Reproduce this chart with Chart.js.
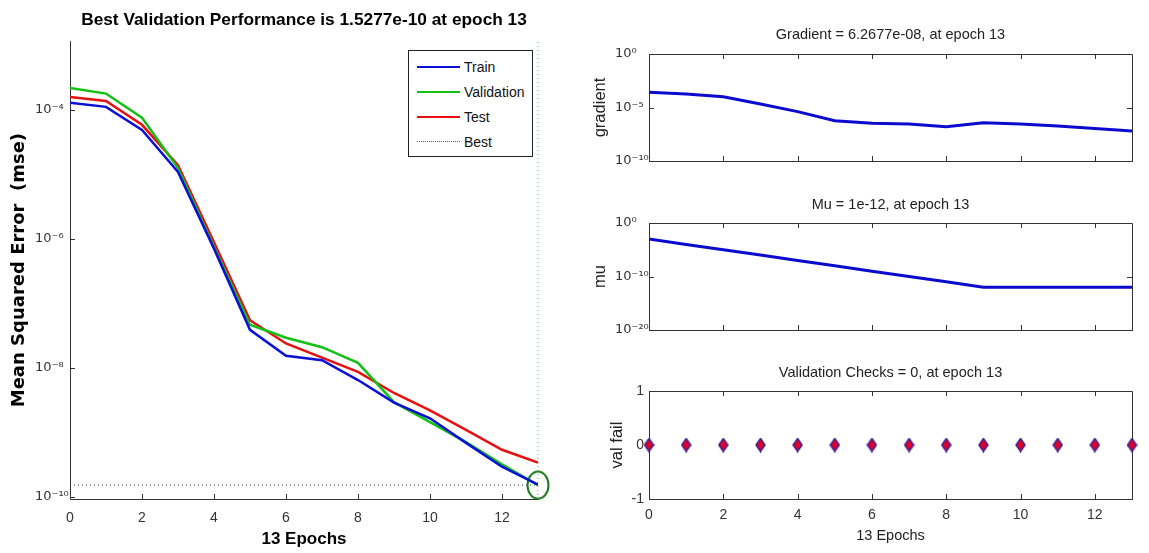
<!DOCTYPE html>
<html>
<head>
<meta charset="utf-8">
<title>Training performance</title>
<script src="https://cdn.jsdelivr.net/npm/chart.js@4.4.1/dist/chart.umd.min.js"></script>
<style>
    body { margin: 0; background: #fff; width: 1149px; height: 553px; position: relative; overflow: hidden; }
    canvas { position: absolute; }
    #legend {
        position: absolute; left: 408px; top: 50px; width: 123px; height: 105px;
        border: 1px solid #222; background: #fff;
        font-family: 'Liberation Sans', Arial, sans-serif;
        font-size: 14px; color: #111;
    }
    #legend .row { position: absolute; left: 0; height: 20px; line-height: 20px; }
    #legend .swatch { position: absolute; left: 8px; width: 43px; top: 9px; }
    #legend .label { position: absolute; left: 55px; top: 0; white-space: nowrap; }
</style>
</head>
<body>
<canvas id="perfChart" width="560" height="553" style="left:0;top:0"></canvas>
<canvas id="gradChart" width="589" height="175" style="left:560px;top:0"></canvas>
<canvas id="muChart" width="589" height="170" style="left:560px;top:175px"></canvas>
<canvas id="valChart" width="589" height="208" style="left:560px;top:345px"></canvas>
<div id="legend"></div>
<script>
// data
const epochs = [0, 1, 2, 3, 4, 5, 6, 7, 8, 9, 10, 11, 12, 13];
const trainPerf = [1.3e-4, 1.12e-4, 4.9e-5, 1.1e-5, 7.1e-7, 3.9e-8, 1.55e-8, 1.32e-8, 6.5e-9, 2.9e-9, 1.66e-9, 6.9e-10, 2.95e-10, 1.55e-10];
const valPerf = [2.2e-4, 1.8e-4, 7.6e-5, 1.26e-5, 7.6e-7, 4.7e-8, 2.95e-8, 2.1e-8, 1.2e-8, 2.95e-9, 1.45e-9, 7.1e-10, 3.2e-10, 1.5277e-10];
const testPerf = [1.6e-4, 1.38e-4, 5.9e-5, 1.4e-5, 8.9e-7, 5.5e-8, 2.4e-8, 1.45e-8, 8.7e-9, 4.1e-9, 2.2e-9, 1.1e-9, 5.4e-10, 3.4e-10];
const bestEpoch = 13;
const bestPerf = 1.5277e-10;

const gradient = [2.6e-4, 1.8e-4, 1.0e-4, 2.1e-5, 4.1e-6, 5.9e-7, 3.3e-7, 2.9e-7, 1.6e-7, 3.8e-7, 2.9e-7, 1.9e-7, 1.1e-7, 6.2677e-8];
const mu = [1e-3, 1e-4, 1e-5, 1e-6, 1e-7, 1e-8, 1e-9, 1e-10, 1e-11, 1e-12, 1e-12, 1e-12, 1e-12, 1e-12];
const valFail = [0, 0, 0, 0, 0, 0, 0, 0, 0, 0, 0, 0, 0, 0];

const epochTicks = [0, 2, 4, 6, 8, 10, 12];
const perfTicks = [1e-10, 1e-8, 1e-6, 1e-4];
const perfTickLabels = ["10⁻¹⁰", "10⁻⁸", "10⁻⁶", "10⁻⁴"];
const gradTicks = [1e-10, 1e-5, 1];
const gradTickLabels = ["10⁻¹⁰", "10⁻⁵", "10⁰"];
const muTicks = [1e-20, 1e-10, 1];
const muTickLabels = ["10⁻²⁰", "10⁻¹⁰", "10⁰"];
const valFailTicks = [-1, 0, 1];

const perfMin = 9.3e-11, perfMax = 1.17e-3;

const SANS = "'Liberation Sans', Arial, sans-serif";
const EXP_FONT = { family: "'DejaVu Sans', sans-serif", size: 13 };

Chart.defaults.font.family = SANS;
Chart.defaults.color = "#333";
Chart.defaults.animation = false;

const xy = (ys) => epochs.map((e, i) => ({ x: e, y: ys[i] }));

// MATLAB style axes: lines plus ticks pointing into the plot
const matlabAxes = {
    id: "matlabAxes",
    beforeDatasetsDraw(chart, args, opts) {
        const { ctx, chartArea: a, scales: { x, y } } = chart;
        const t = 5;
        ctx.save();
        ctx.strokeStyle = "#333";
        ctx.lineWidth = 1;
        ctx.beginPath();
        ctx.moveTo(a.left + 0.5, a.top);
        ctx.lineTo(a.left + 0.5, a.bottom + 0.5);
        ctx.lineTo(a.right + 1, a.bottom + 0.5);
        if (opts.box) {
            ctx.moveTo(a.left, a.top + 0.5);
            ctx.lineTo(a.right + 0.5, a.top + 0.5);
            ctx.lineTo(a.right + 0.5, a.bottom);
        }
        x.ticks.forEach((tick) => {
            const px = Math.round(x.getPixelForValue(tick.value)) + 0.5;
            ctx.moveTo(px, a.bottom);
            ctx.lineTo(px, a.bottom - t);
            if (opts.box) {
                ctx.moveTo(px, a.top);
                ctx.lineTo(px, a.top + t);
            }
        });
        y.ticks.forEach((tick) => {
            const py = Math.round(y.getPixelForValue(tick.value)) + 0.5;
            ctx.moveTo(a.left, py);
            ctx.lineTo(a.left + t, py);
            if (opts.box) {
                ctx.moveTo(a.right, py);
                ctx.lineTo(a.right - t, py);
            }
        });
        ctx.stroke();
        ctx.restore();
    },
};

function diamondMarker(w, h, fill, stroke) {
    const c = document.createElement("canvas");
    c.width = w;
    c.height = h;
    const g = c.getContext("2d");
    g.beginPath();
    g.moveTo(w / 2, 1);
    g.lineTo(w - 1, h / 2);
    g.lineTo(w / 2, h - 1);
    g.lineTo(1, h / 2);
    g.closePath();
    g.fillStyle = fill;
    g.fill();
    g.lineWidth = 1.5;
    g.strokeStyle = stroke;
    g.stroke();
    return c;
}

function ringMarker(w, h, stroke) {
    const c = document.createElement("canvas");
    c.width = w;
    c.height = h;
    const g = c.getContext("2d");
    g.beginPath();
    g.ellipse(w / 2, h / 2, w / 2 - 1.5, h / 2 - 1.5, 0, 0, Math.PI * 2);
    g.lineWidth = 2;
    g.strokeStyle = stroke;
    g.stroke();
    return c;
}

function fixedTicks(values) {
    return (scale) => { scale.ticks = values.map((v) => ({ value: v })); };
}

const noGrid = { display: false, drawTicks: false };

function epochAxis(showLabels, height, pad) {
    return {
        type: "linear",
        min: 0,
        max: 13,
        afterBuildTicks: fixedTicks(epochTicks),
        afterFit: (scale) => { scale.height = height; },
        grid: noGrid,
        border: { display: false },
        ticks: { display: showLabels, padding: pad, font: { size: 14 }, color: "#333" },
    };
}

function smallTitle(text, top, bottom) {
    return {
        display: true,
        text: text,
        fullSize: false,
        color: "#222",
        font: { family: SANS, size: 14.5, weight: "normal" },
        padding: { top: top, bottom: bottom },
    };
}

// ---------- performance plot ----------
const perfColors = { Train: "#0a0fd6", Validation: "#14c014", Test: "#e61010", Best: "#444" };

const perfChart = new Chart(document.getElementById("perfChart"), {
    type: "line",
    data: {
        datasets: [
            { label: "Train", data: xy(trainPerf), borderColor: perfColors.Train, borderWidth: 2.5, pointRadius: 0, tension: 0 },
            { label: "Validation", data: xy(valPerf), borderColor: perfColors.Validation, borderWidth: 2.5, pointRadius: 0, tension: 0 },
            { label: "Test", data: xy(testPerf), borderColor: perfColors.Test, borderWidth: 2.5, pointRadius: 0, tension: 0 },
            {
                label: "Best", data: [{ x: 0, y: bestPerf }, { x: bestEpoch, y: bestPerf }],
                borderColor: "#333", borderWidth: 1, borderDash: [1, 3], pointRadius: 0, clip: false,
            },
            {
                label: "Best epoch", data: [{ x: bestEpoch, y: perfMin }, { x: bestEpoch, y: perfMax }],
                borderColor: "#6f9f6f", borderWidth: 1, borderDash: [1, 3], pointRadius: 0, clip: false,
            },
            {
                label: "Best point", data: [{ x: bestEpoch, y: bestPerf }], showLine: false,
                pointStyle: ringMarker(24, 30, "#1b7a1b"), pointRadius: 12, clip: false,
            },
        ],
    },
    options: {
        responsive: false,
        devicePixelRatio: 1,
        layout: { padding: { left: 35, right: 22, top: 0, bottom: 0 } },
        scales: {
            x: {
                ...epochAxis(true, 54, 11),
                title: {
                    display: true, text: "13 Epochs", color: "#000",
                    font: { family: SANS, size: 17, weight: "bold" }, padding: { top: 0, bottom: 3 },
                },
            },
            y: {
                type: "logarithmic",
                min: perfMin,
                max: perfMax,
                afterBuildTicks: fixedTicks(perfTicks),
                afterFit: (scale) => { scale.width = 35; },
                grid: noGrid,
                border: { display: false },
                ticks: {
                    crossAlign: "far", font: EXP_FONT, color: "#333",
                    callback: (value, index) => perfTickLabels[index],
                },
                title: {
                    display: true, text: "Mean Squared Error  (mse)", color: "#000",
                    font: { family: "'DejaVu Sans', sans-serif", size: 18, weight: "bold" },
                    padding: { top: -26.8, bottom: 0 },
                },
            },
        },
        plugins: {
            legend: { display: false },
            tooltip: { enabled: false },
            title: {
                display: true,
                text: "Best Validation Performance is 1.5277e-10 at epoch 13",
                fullSize: false,
                color: "#000",
                font: { family: SANS, size: 17.3, weight: "bold" },
                padding: { top: 9.8, bottom: 10.6 },
            },
            matlabAxes: { box: false },
        },
    },
    plugins: [matlabAxes],
});

// legend box in the upper right of the performance plot
const legendBox = document.getElementById("legend");
["Train", "Validation", "Test", "Best"].forEach((name, i) => {
    const row = document.createElement("div");
    row.className = "row";
    row.style.top = (6 + i * 25) + "px";
    row.style.width = "100%";
    const swatch = document.createElement("div");
    swatch.className = "swatch";
    swatch.style.borderTop = name === "Best" ? "1px dotted #555" : "2.5px solid " + perfColors[name];
    const label = document.createElement("span");
    label.className = "label";
    label.textContent = name;
    row.appendChild(swatch);
    row.appendChild(label);
    legendBox.appendChild(row);
});

// ---------- gradient ----------
new Chart(document.getElementById("gradChart"), {
    type: "line",
    data: {
        datasets: [{ label: "gradient", data: xy(gradient), borderColor: "#0b0bcf", borderWidth: 3, pointRadius: 0, tension: 0 }],
    },
    options: {
        responsive: false,
        devicePixelRatio: 1,
        layout: { padding: { left: 55, right: 17, top: 0, bottom: 0 } },
        scales: {
            x: epochAxis(false, 14, 0),
            y: {
                type: "logarithmic",
                min: 1e-10,
                max: 1,
                afterBuildTicks: fixedTicks(gradTicks),
                afterFit: (scale) => { scale.width = 34; },
                grid: noGrid,
                border: { display: false },
                ticks: { crossAlign: "far", font: EXP_FONT, callback: (v, i) => gradTickLabels[i] },
                title: { display: true, text: "gradient", color: "#222", font: { family: SANS, size: 16.5 }, padding: { top: -24.9, bottom: 0 } },
            },
        },
        plugins: {
            legend: { display: false },
            tooltip: { enabled: false },
            title: smallTitle("Gradient = 6.2677e-08, at epoch 13", 26, 10.6),
            matlabAxes: { box: true },
        },
    },
    plugins: [matlabAxes],
});

// ---------- mu ----------
new Chart(document.getElementById("muChart"), {
    type: "line",
    data: {
        datasets: [{ label: "mu", data: xy(mu), borderColor: "#0b0bcf", borderWidth: 3, pointRadius: 0, tension: 0 }],
    },
    options: {
        responsive: false,
        devicePixelRatio: 1,
        layout: { padding: { left: 55, right: 17, top: 0, bottom: 0 } },
        scales: {
            x: epochAxis(false, 15, 0),
            y: {
                type: "logarithmic",
                min: 1e-20,
                max: 1,
                afterBuildTicks: fixedTicks(muTicks),
                afterFit: (scale) => { scale.width = 34; },
                grid: noGrid,
                border: { display: false },
                ticks: { crossAlign: "far", font: EXP_FONT, callback: (v, i) => muTickLabels[i] },
                title: { display: true, text: "mu", color: "#222", font: { family: SANS, size: 16.5 }, padding: { top: -24.9, bottom: 0 } },
            },
        },
        plugins: {
            legend: { display: false },
            tooltip: { enabled: false },
            title: smallTitle("Mu = 1e-12, at epoch 13", 20.8, 9.8),
            matlabAxes: { box: true },
        },
    },
    plugins: [matlabAxes],
});

// ---------- validation checks ----------
new Chart(document.getElementById("valChart"), {
    type: "line",
    data: {
        datasets: [{
            label: "val fail", data: xy(valFail), showLine: false,
            pointStyle: diamondMarker(11, 15, "#e0002c", "#3d2290"), pointRadius: 7, clip: false,
        }],
    },
    options: {
        responsive: false,
        devicePixelRatio: 1,
        layout: { padding: { left: 0, right: 17, top: 0, bottom: 0 } },
        scales: {
            x: {
                ...epochAxis(true, 54, 8),
                title: { display: true, text: "13 Epochs", color: "#222", font: { family: SANS, size: 14.5 }, padding: { top: 0, bottom: 8 } },
            },
            y: {
                type: "linear",
                min: -1,
                max: 1,
                afterBuildTicks: fixedTicks(valFailTicks),
                afterFit: (scale) => { scale.width = 89; },
                grid: noGrid,
                border: { display: false },
                ticks: { padding: 5, font: { size: 14 } },
                title: { display: true, text: "val fail", color: "#222", font: { family: SANS, size: 16.5 }, padding: { top: 47.1, bottom: 0 } },
            },
        },
        plugins: {
            legend: { display: false },
            tooltip: { enabled: false },
            title: smallTitle("Validation Checks = 0, at epoch 13", 19.5, 9.1),
            matlabAxes: { box: true },
        },
    },
    plugins: [matlabAxes],
});
</script>
</body>
</html>
